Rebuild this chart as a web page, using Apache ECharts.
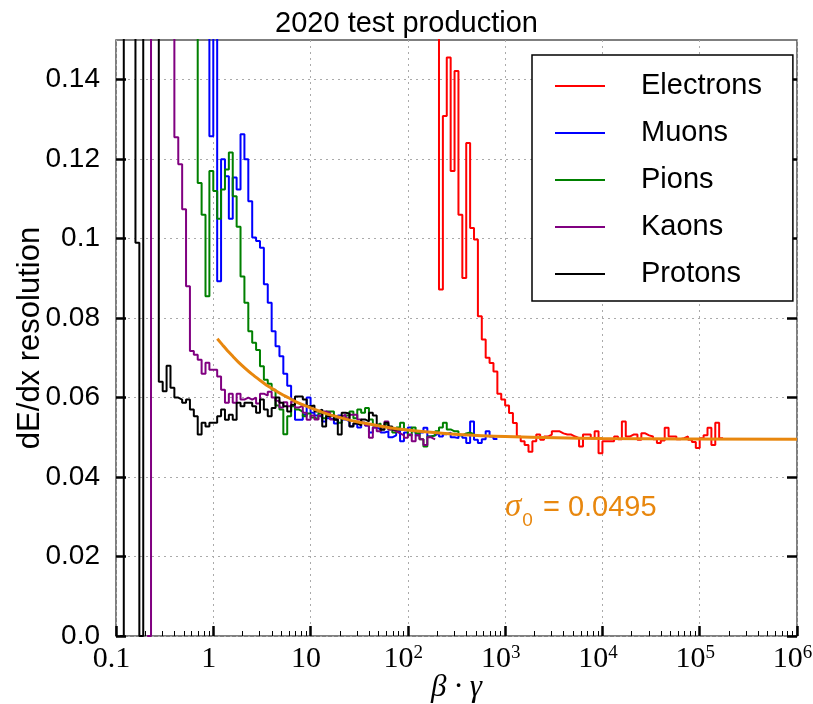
<!DOCTYPE html>
<html>
<head>
<meta charset="utf-8">
<script src="https://cdn.jsdelivr.net/npm/echarts@6/dist/echarts.min.js"></script>
<style>
html,body{margin:0;padding:0;background:#fff;}
#chart{width:813px;height:704px;}
</style>
</head>
<body>
<div id="chart"></div>
<script>
// ---- data (step histograms on log10 bins) ----
const LOG_START = -1;      // log10 of the first bin edge (x = 0.1)
const BIN = 0.04;          // bin width in decades
const OFF = 0.2;           // bins above the top of the plot (off-scale)

const seriesNames = ['Electrons', 'Muons', 'Pions', 'Kaons', 'Protons'];
const seriesColors = ['#ff0000', '#0000ff', '#008000', '#800080', '#000000'];

const electronsStartBin = 82;
const electronsY = [OFF, 0.0872, 0.1309, 0.1456, 0.117, 0.1422, 0.106, 0.0901, 0.1241, 0.1027,
  0.0998, 0.0805, 0.0746, 0.070, 0.0687, 0.0666, 0.061, 0.0595, 0.058, 0.0561,
  0.0536, 0.0502, 0.049, 0.0481, 0.0464, 0.049, 0.0507, 0.0494, 0.0502, 0.0507,
  0.0515, 0.0515, 0.051, 0.0507, 0.0507, 0.0502, 0.0498, 0.0477, 0.0507, 0.0507,
  0.0498, 0.0515, 0.046, 0.049, 0.049, 0.049, 0.0502, 0.0495, 0.054, 0.0502,
  0.0507, 0.0507, 0.0494, 0.051, 0.0505, 0.0502, 0.0495, 0.0486, 0.0492, 0.0524,
  0.0502, 0.0502, 0.0495, 0.0498, 0.0502, 0.0494, 0.0488, 0.0473, 0.0498, 0.0505,
  0.0524, 0.0481, 0.0537, 0.0498];

const muonsStartBin = 23;
const muonsY = [OFF, 0.1258, OFF, 0.0893, 0.12, 0.1157, 0.105, 0.1154, 0.1124, 0.1263,
  0.12, 0.1094, 0.1003, 0.0994, 0.0977, 0.0885, 0.0839, 0.0767, 0.0729, 0.0704,
  0.066, 0.063, 0.0595, 0.0544, 0.0544, 0.0557, 0.060, 0.0562, 0.0555, 0.0552,
  0.054, 0.0548, 0.0545, 0.0535, 0.0555, 0.0545, 0.054, 0.0528, 0.0535, 0.0525,
  0.0537, 0.053, 0.0512, 0.0525, 0.052, 0.0512, 0.0515, 0.050, 0.0505, 0.0515,
  0.049, 0.0512, 0.0525, 0.0515, 0.0505, 0.0512, 0.0524, 0.0502, 0.0505, 0.051,
  0.0502, 0.0508, 0.0512, 0.050, 0.0498, 0.0505, 0.0499, 0.0486, 0.054, 0.0494,
  0.0486, 0.0495, 0.0515, 0.0502, 0.0496];

const pionsStartBin = 20;
const pionsY = [OFF, 0.114, 0.106, 0.0855, 0.117, 0.112, 0.105, 0.1124, 0.1174, 0.1217,
  0.1107, 0.103, 0.0905, 0.0839, 0.0767, 0.0738, 0.072, 0.0679, 0.0645, 0.0635,
  0.062, 0.058, 0.057, 0.0508, 0.0553, 0.0578, 0.057, 0.0565, 0.0553, 0.056,
  0.055, 0.0545, 0.056, 0.0548, 0.0565, 0.0565, 0.0548, 0.0537, 0.0548, 0.0555,
  0.0565, 0.0548, 0.057, 0.0562, 0.0574, 0.0545, 0.053, 0.0535, 0.0525, 0.0532,
  0.052, 0.0512, 0.0525, 0.0537, 0.0519, 0.0505, 0.0525, 0.051, 0.0495, 0.0477,
  0.0502, 0.0505, 0.0515, 0.0525, 0.0537, 0.052, 0.0515, 0.0515, 0.0505, 0.051,
  0.0512, 0.0508];

const kaonsStartBin = 8;
const kaonsY = [0, OFF, OFF, OFF, OFF, OFF, OFF, 0.1255, 0.1187, 0.1074,
  0.088, 0.0717, 0.0708, 0.0695, 0.066, 0.0688, 0.067, 0.067, 0.0653, 0.062,
  0.0587, 0.061, 0.0587, 0.061, 0.0595, 0.060, 0.0595, 0.060, 0.0585, 0.061,
  0.0605, 0.0615, 0.060, 0.0592, 0.0575, 0.0588, 0.0578, 0.059, 0.0575, 0.058,
  0.0562, 0.0544, 0.0555, 0.0545, 0.0555, 0.0565, 0.0562, 0.0545, 0.0544, 0.0552,
  0.0557, 0.0548, 0.0557, 0.0557, 0.0545, 0.0537, 0.053, 0.0499, 0.0525, 0.0515,
  0.0525, 0.054, 0.052, 0.0515, 0.051, 0.0505, 0.0499, 0.0507, 0.049, 0.0505,
  0.0495, 0.0481, 0.050, 0.0495];

const protonsStartBin = 1;
const protonsY = [0, OFF, OFF, OFF, 0.099, 0, OFF, OFF, OFF, OFF,
  0.064, 0.0616, 0.068, 0.0625, 0.060, 0.0595, 0.0587, 0.0595, 0.057, 0.0553,
  0.0507, 0.0537, 0.0527, 0.0537, 0.0537, 0.0553, 0.057, 0.0544, 0.0557, 0.0544,
  0.0587, 0.0578, 0.0587, 0.0587, 0.0578, 0.0562, 0.0595, 0.057, 0.0553, 0.0574,
  0.060, 0.0587, 0.0578, 0.0565, 0.0582, 0.0603, 0.0603, 0.0595, 0.0578, 0.058,
  0.0565, 0.057, 0.0527, 0.0553, 0.0557, 0.0544, 0.0507, 0.0562, 0.056, 0.0527,
  0.0535, 0.053, 0.0545, 0.054, 0.0562, 0.0555, 0.053, 0.0519, 0.0537, 0.0527,
  0.052, 0.0519, 0.052];

// fit curve
const fitX = [1.1, 1.25, 1.4, 1.6, 1.8, 2.1, 2.5, 3, 3.5, 4.2, 5, 6, 7, 8.5, 10,
  14, 20, 30, 50, 80, 150, 300, 1000, 1e4, 1e6];
const fitY = [0.0748, 0.0732, 0.0718, 0.0703, 0.0690, 0.0675, 0.0659, 0.0644, 0.0632, 0.0620,
  0.0609, 0.0599, 0.0590, 0.0581, 0.0574, 0.0561, 0.0550, 0.0539, 0.0529, 0.0521,
  0.0514, 0.0508, 0.0502, 0.0497, 0.0495];
const fitLabel = '0.0495';

// tick labels / positions
const yTickValues = [0, 0.02, 0.04, 0.06, 0.08, 0.1, 0.12, 0.14];
const xMajorValues = [0.1, 1, 10, 100, 1e3, 1e4, 1e5, 1e6];
const xMinorMultipliers = [2, 3, 4, 5, 6, 7, 8, 9];

// ---- build ----
function steps(startBin, ys) {
  const pts = [];
  for (let i = 0; i < ys.length; i++) pts.push([Math.pow(10, LOG_START + (startBin + i) * BIN), ys[i]]);
  pts.push([Math.pow(10, LOG_START + (startBin + ys.length) * BIN), ys[ys.length - 1]]);
  return pts;
}
const hist = [
  steps(electronsStartBin, electronsY),
  steps(muonsStartBin, muonsY),
  steps(pionsStartBin, pionsY),
  steps(kaonsStartBin, kaonsY),
  steps(protonsStartBin, protonsY)
];
const xMinorValues = [];
for (let i = 0; i < xMajorValues.length - 1; i++)
  for (const m of xMinorMultipliers) xMinorValues.push(xMajorValues[i] * m);

const ORANGE = '#e8870e';
const SANS = 'Liberation Sans';
const SERIF = 'Liberation Serif';

const series = hist.map((d, i) => ({
  name: seriesNames[i], type: 'line', step: 'end', data: d, symbol: 'none',
  lineStyle: {color: seriesColors[i], width: 2}, itemStyle: {color: seriesColors[i]},
  clip: true, animation: false, z: 2 + i
}));
series.push({
  name: 'fit', type: 'line', smooth: 0.3, symbol: 'none',
  data: fitX.map((x, i) => [x, fitY[i]]),
  lineStyle: {color: ORANGE, width: 3}, clip: true, animation: false, z: 10
});

const chart = echarts.init(document.getElementById('chart'), null, {renderer: 'canvas'});
chart.setOption({
  animation: false,
  backgroundColor: '#fff',
  title: [
    {text: '2020 test production', left: 'center', top: 4,
     textStyle: {fontFamily: SANS, fontSize: 29, fontWeight: 'normal', color: '#000'}},
    {text: '{s|σ}{sub|0}{n| = ' + fitLabel + '}', left: 500, top: 486,
     textStyle: {fontWeight: 'normal', rich: {
       s: {fontFamily: SERIF, fontStyle: 'italic', fontWeight: 'normal', fontSize: 33, color: ORANGE},
       sub: {fontFamily: SANS, fontWeight: 'normal', fontSize: 19, color: ORANGE, verticalAlign: 'bottom', padding: [0, 2, -6, 1]},
       n: {fontFamily: SANS, fontWeight: 'normal', fontSize: 29, color: ORANGE}
     }}}
  ],
  grid: {left: 116, right: 16, top: 40, bottom: 68, outerBoundsMode: 'none', containLabel: false,
         show: true, borderColor: '#555', borderWidth: 1.5},
  legend: {
    data: seriesNames, orient: 'vertical', left: 532, top: 55,
    icon: 'rect', itemWidth: 50, itemHeight: 2, itemGap: 17,
    padding: [16, 31, 12, 23],
    borderColor: '#000', borderWidth: 1.5, backgroundColor: '#fff', borderRadius: 0,
    textStyle: {fontFamily: SANS, fontSize: 29, lineHeight: 30, color: '#000', padding: [0, 0, 0, 31]}
  },
  xAxis: [
    {type: 'log', logBase: 10, min: 0.1, max: 1e6,
     name: 'β · γ', nameLocation: 'middle', nameGap: 36, nameMoveOverlap: false,
     nameTextStyle: {fontFamily: SERIF, fontStyle: 'italic', fontSize: 31, color: '#000'},
     axisLine: {show: false},
     axisTick: {show: true, inside: true, length: 10, lineStyle: {color: '#000', width: 2.5}},
     axisLabel: {margin: 8, color: '#000', fontFamily: SERIF, fontSize: 30, hideOverlap: false,
       padding: [0, 9, 0, 0],
       formatter: function (v) {
         const e = Math.round(Math.log10(v));
         if (e === -1) return '{b|0.1}';
         if (e === 0) return '{b|1}';
         if (e === 1) return '{b|10}';
         return '{b|10}{sup|' + e + '}';
       },
       rich: {
         b: {fontFamily: SERIF, fontSize: 30, color: '#000'},
         sup: {fontFamily: SERIF, fontSize: 19, color: '#000', verticalAlign: 'top', padding: [0, 0, 12, 0]}
       }},
     splitLine: {show: true, lineStyle: {color: '#aaa', width: 1, type: [2, 4]}}
    },
    {type: 'log', logBase: 10, min: 0.1, max: 1e6, position: 'top', offset: -596,
     axisLine: {show: false}, axisLabel: {show: false}, splitLine: {show: false},
     axisTick: {show: true, inside: false, length: 5, customValues: xMinorValues,
       lineStyle: {color: '#000', width: 1}}}
  ],
  yAxis: [
    {type: 'value', min: 0, max: 0.15, interval: 0.02, position: 'left',
     name: 'dE/dx resolution', nameLocation: 'middle', nameGap: 70, nameMoveOverlap: false,
     nameTextStyle: {fontFamily: SANS, fontSize: 31, color: '#000'},
     axisLine: {show: false},
     axisTick: {show: true, inside: true, length: 10, customValues: yTickValues,
       lineStyle: {color: '#000', width: 2.5}},
     axisLabel: {margin: 16, color: '#000', fontFamily: SANS, fontSize: 28, customValues: yTickValues,
       formatter: v => (v === 0 ? '0.0' : String(+v.toFixed(2)))},
     splitLine: {show: true, lineStyle: {color: '#aaa', width: 1, type: [2, 4]}}
    },
    {type: 'value', min: 0, max: 0.15, interval: 0.02, position: 'right',
     axisLine: {show: false}, axisLabel: {show: false}, splitLine: {show: false},
     axisTick: {show: true, inside: true, length: 10, customValues: yTickValues,
       lineStyle: {color: '#000', width: 2.5}}}
  ],
  series: series
});
</script>
</body>
</html>
